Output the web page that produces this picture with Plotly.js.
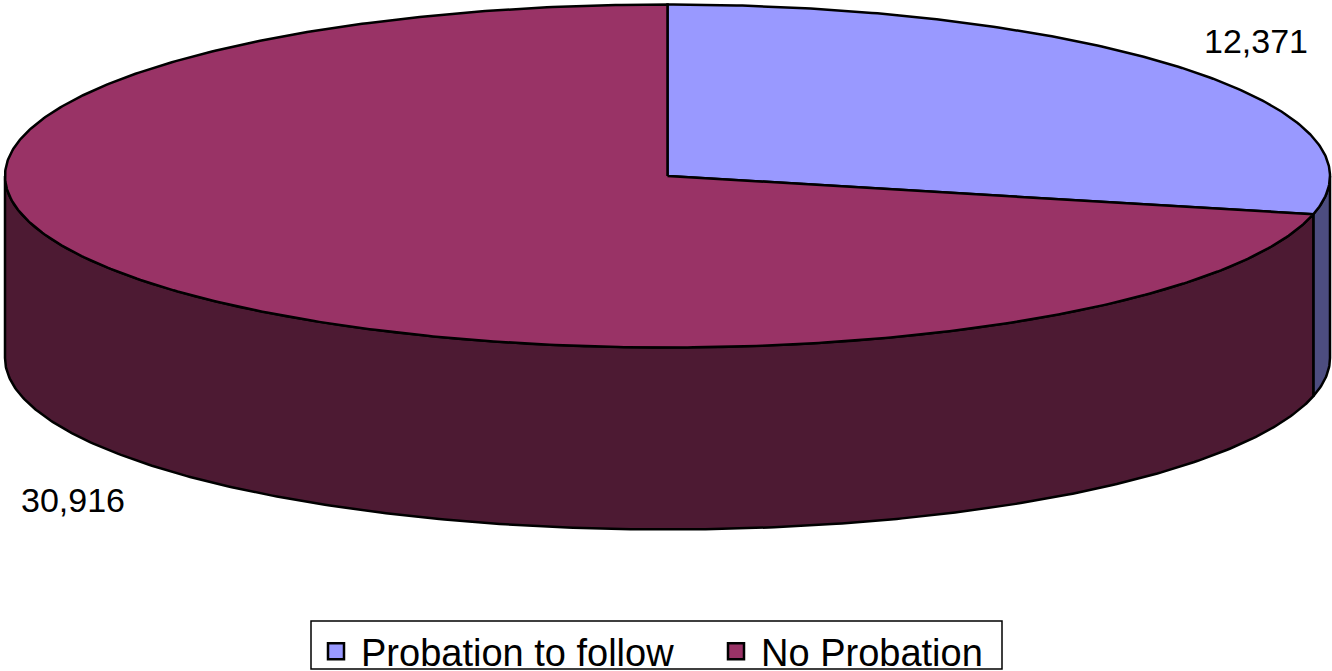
<!DOCTYPE html>
<html>
<head>
<meta charset="utf-8">
<script src="https://cdn.plot.ly/plotly-3.0.1.min.js"></script>
<style>html,body{margin:0;padding:0;background:#fff;}#chart{width:1332px;height:671px;}</style>
</head>
<body>
<div id="chart"></div>
<script>
// ---- data ----
const categories = ["Probation to follow", "No Probation"];
const values = [12371, 30916];
const topColors = ["#9999FF", "#993366"];
const sideColors = ["#4D4D80", "#4D1A33"];

// ---- geometry of the 3-D disc (pixel space) ----
const W = 1332, H = 671;
const cx = 667.5, cy = 176, rx = 662.5, ry = 171.5, depth = 182;
const deg = Math.PI / 180;
function pt(a, dy) { return [cx + rx * Math.cos(a * deg), cy - ry * Math.sin(a * deg) + (dy || 0)]; }
function arc(a0, a1, dy) {
  const n = Math.max(2, Math.ceil(Math.abs(a1 - a0) * 2));
  const xs = [], ys = [];
  for (let i = 0; i <= n; i++) { const p = pt(a0 + (a1 - a0) * i / n, dy); xs.push(p[0]); ys.push(p[1]); }
  return [xs, ys];
}

const total = values.reduce((s, v) => s + v, 0);
let start = 90;
const slices = values.map(v => { const a0 = start, a1 = start - v / total * 360; start = a1; return [a0, a1]; });

const traces = [];
// side walls (front half: angles between -180 and 0)
slices.forEach((s, i) => {
  const hi = Math.min(s[0], 0), lo = Math.max(s[1], -180);
  if (hi <= lo) return;
  const t = arc(hi, lo, 0), b = arc(lo, hi, depth);
  traces.push({ type: "scatter", mode: "lines", x: t[0].concat(b[0], [t[0][0]]), y: t[1].concat(b[1], [t[1][0]]),
    fill: "toself", fillcolor: sideColors[i], line: { color: "#000", width: 2.5 }, hoverinfo: "skip", showlegend: false });
});
// top faces
slices.forEach((s, i) => {
  const a = arc(s[0], s[1], 0);
  traces.push({ type: "scatter", mode: "lines", x: [cx].concat(a[0], [cx]), y: [cy].concat(a[1], [cy]),
    fill: "toself", fillcolor: topColors[i], line: { color: "#000", width: 2.5 }, hoverinfo: "skip", showlegend: false });
});
// legend entries
categories.forEach((c, i) => {
  traces.push({ type: "scatter", mode: "markers", x: [null], y: [null], name: c,
    marker: { symbol: "square", size: 16, color: topColors[i], line: { color: "#000", width: 2.5 } } });
});

const labelPos = [[1256, 41], [73, 500]];
const annotations = values.map((v, i) => ({
  x: labelPos[i][0], y: labelPos[i][1], xref: "x", yref: "y", showarrow: false,
  text: v.toLocaleString("en-US"), font: { size: 34, color: "#000" }
}));

const layout = {
  width: W, height: H,
  margin: { l: 0, r: 0, t: 0, b: 0, autoexpand: false },
  paper_bgcolor: "#fff", plot_bgcolor: "#fff",
  font: { family: "Liberation Sans, Arial, sans-serif", color: "#000" },
  xaxis: { range: [0, W], visible: false, fixedrange: true },
  yaxis: { range: [H, 0], visible: false, fixedrange: true },
  showlegend: true,
  legend: { orientation: "h", x: 311 / W, xanchor: "left", y: 1 - 620 / H, yanchor: "top",
    borderwidth: 0, bgcolor: "rgba(0,0,0,0)", font: { size: 38 }, itemwidth: 40,
    entrywidth: 345, entrywidthmode: "pixels", traceorder: "normal" },
  shapes: [{ type: "rect", xref: "x", yref: "y", x0: 311, x1: 1002, y0: 621, y1: 669,
    line: { color: "#000", width: 1.5 }, fillcolor: "#fff", layer: "above" }],
  annotations: annotations
};
Plotly.newPlot("chart", traces, layout, { staticPlot: true });
</script>
</body>
</html>
